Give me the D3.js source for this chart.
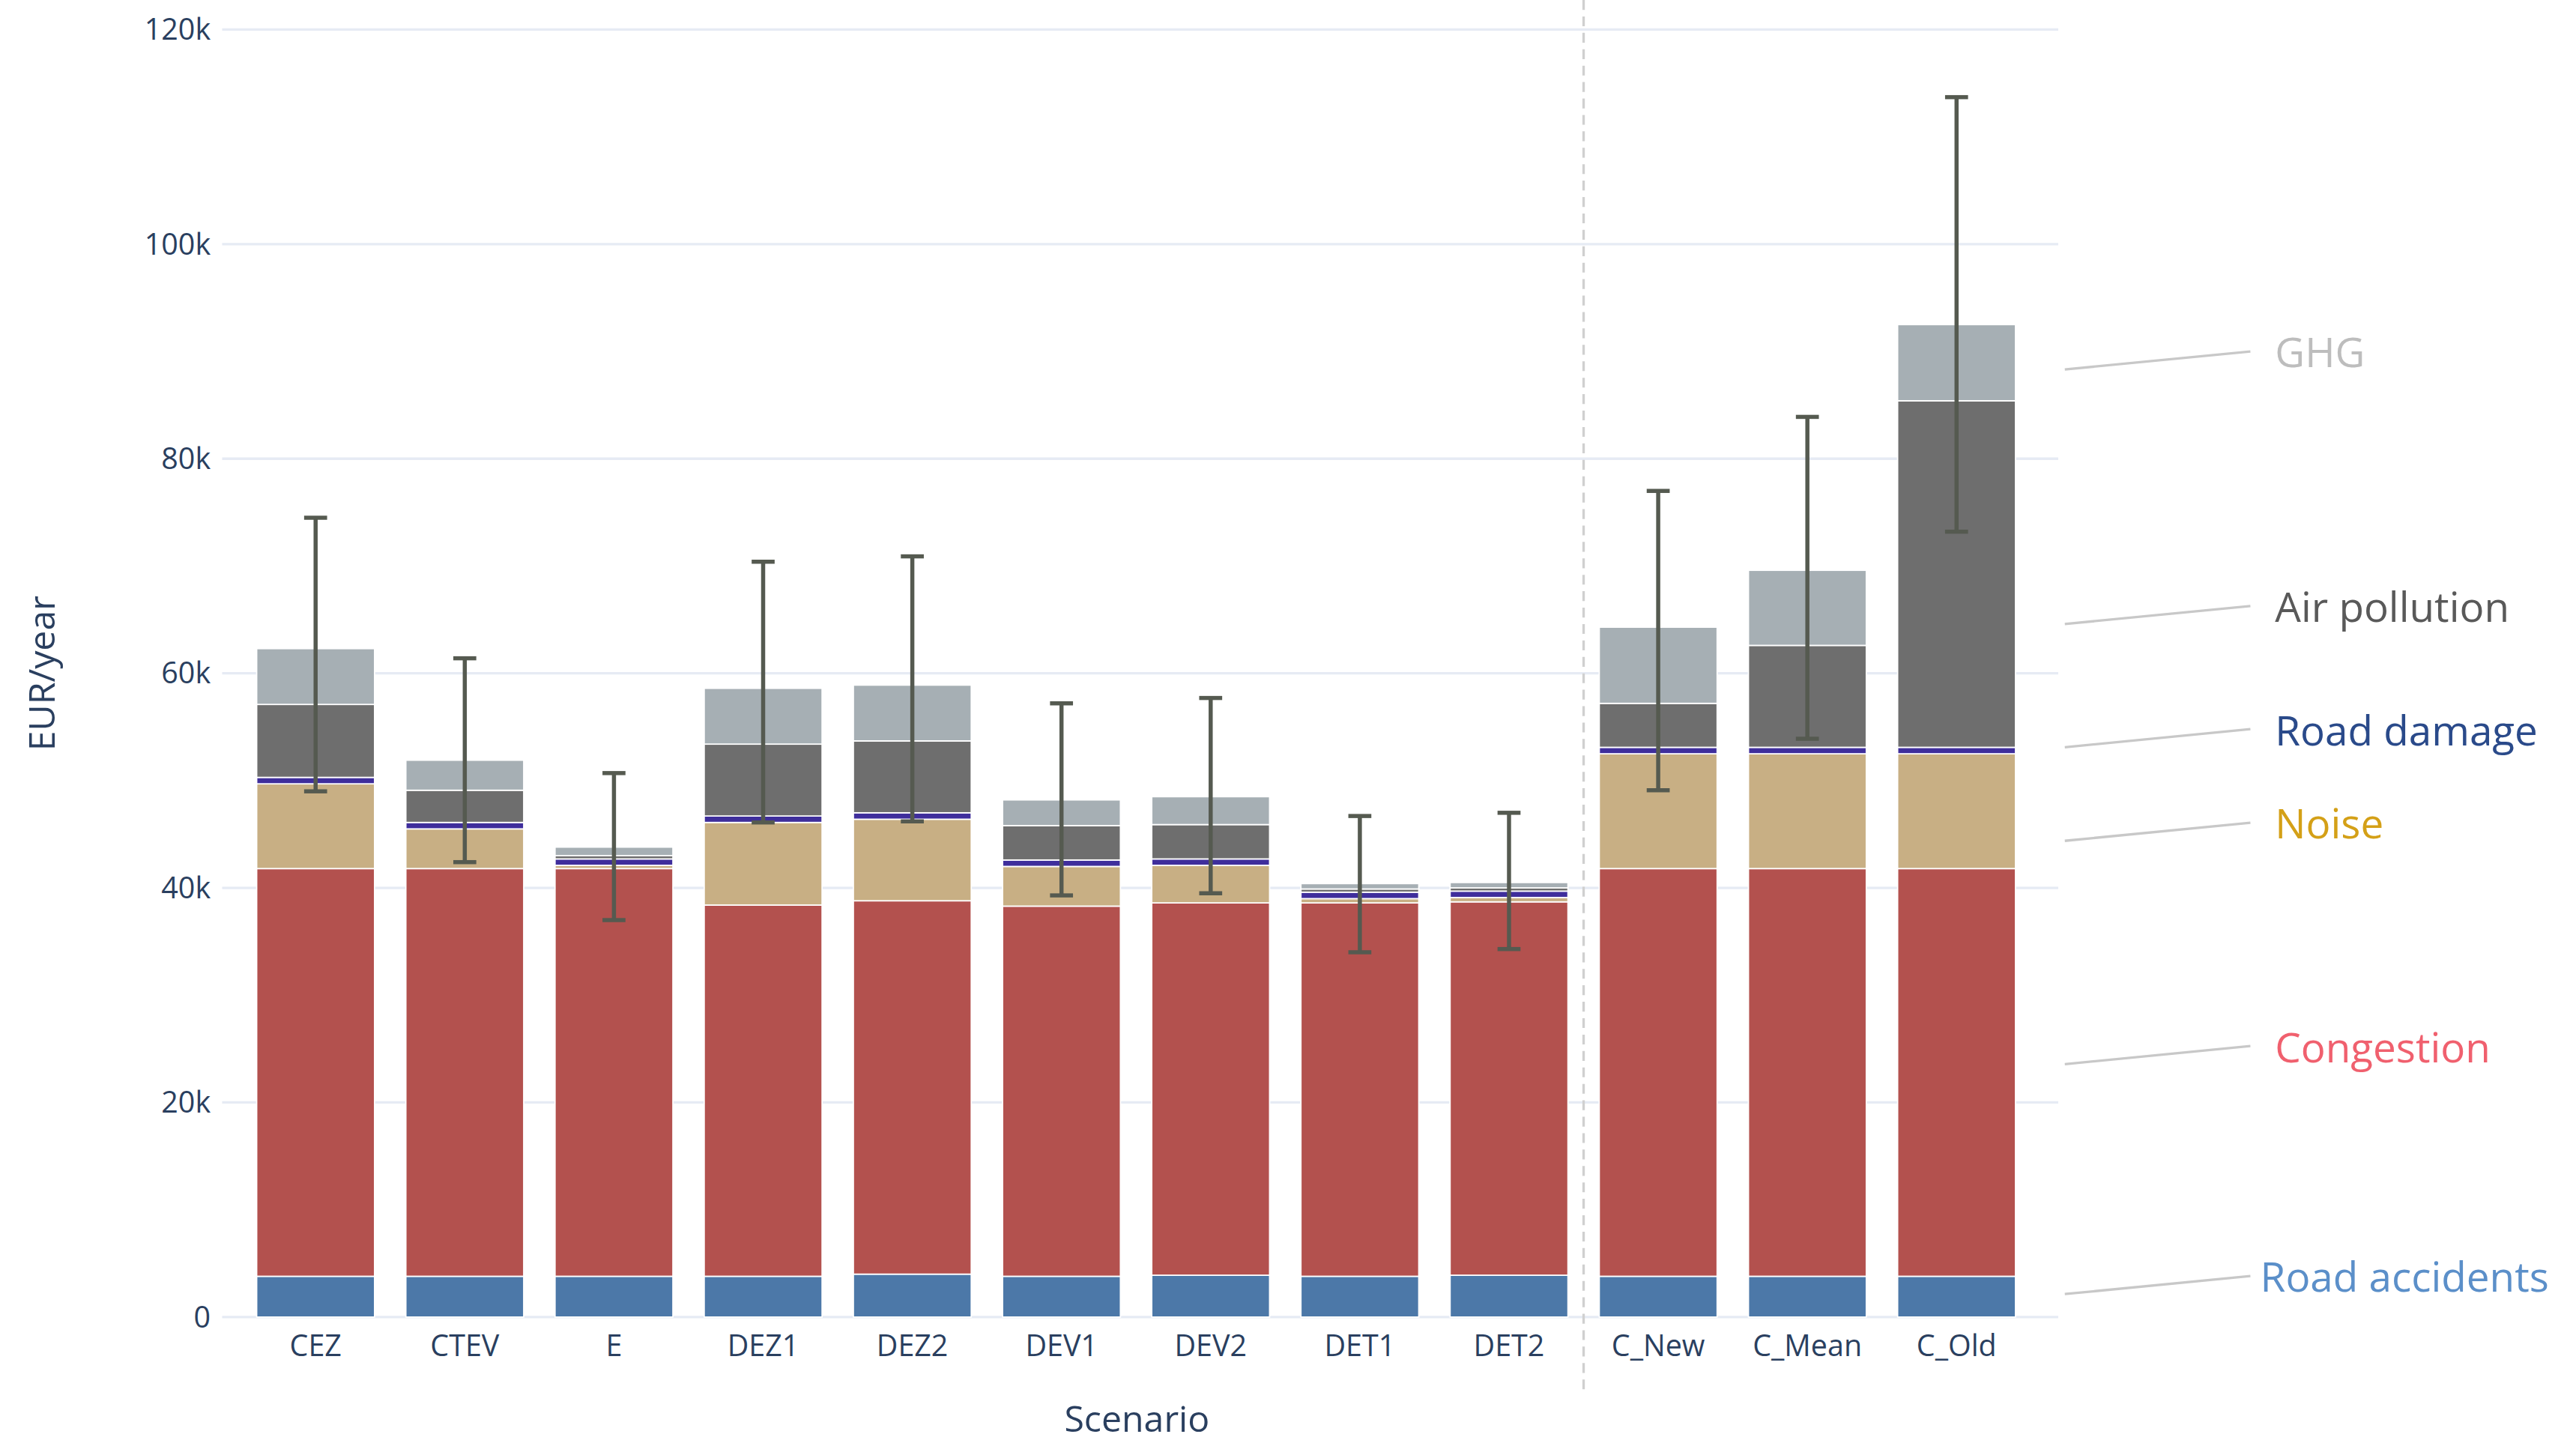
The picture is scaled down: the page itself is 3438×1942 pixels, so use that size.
<!DOCTYPE html>
<html>
<head>
<meta charset="utf-8">
<script src="https://cdn.jsdelivr.net/npm/d3@7"></script>
<style>
  body { margin: 0; background: #fff; }
  text { font-family: "Open Sans", sans-serif; }
</style>
</head>
<body>
<div id="chart"></div>
<script>
  var scenarios = ["CEZ", "CTEV", "E", "DEZ1", "DEZ2", "DEV1", "DEV2", "DET1", "DET2", "C_New", "C_Mean", "C_Old"];
  var roadAccidents = [3.8, 3.8, 3.8, 3.8, 4.0, 3.8, 3.9, 3.8, 3.9, 3.8, 3.8, 3.8];
  var congestion    = [38.0, 38.0, 38.0, 34.6, 34.8, 34.5, 34.7, 34.8, 34.8, 38.0, 38.0, 38.0];
  var noise         = [7.9, 3.7, 0.3, 7.7, 7.6, 3.7, 3.5, 0.4, 0.4, 10.7, 10.7, 10.7];
  var roadDamage    = [0.6, 0.6, 0.6, 0.6, 0.6, 0.6, 0.6, 0.6, 0.6, 0.6, 0.6, 0.6];
  var airPollution  = [6.8, 3.0, 0.3, 6.7, 6.7, 3.2, 3.2, 0.3, 0.3, 4.1, 9.5, 32.3];
  var ghg           = [5.2, 2.8, 0.8, 5.2, 5.2, 2.4, 2.6, 0.5, 0.5, 7.1, 7.0, 7.1];
  var errLow  = [49.0, 42.4, 37.0, 46.1, 46.2, 39.3, 39.5, 34.0, 34.3, 49.1, 53.9, 73.2];
  var errHigh = [74.5, 61.4, 50.7, 70.4, 70.9, 57.2, 57.7, 46.7, 47.0, 77.0, 83.9, 113.7];
  var yTicks = [0, 20, 40, 60, 80, 100, 120];

  var seriesNames  = ["Road accidents", "Congestion", "Noise", "Road damage", "Air pollution", "GHG"];
  var seriesValues = [roadAccidents, congestion, noise, roadDamage, airPollution, ghg];
  var barColors    = ["#4C78A8", "#B3514E", "#C8AF84", "#3F2E9C", "#6E6E6E", "#A6AFB4"];
  var labelColors  = ["#5B8FC9", "#F0606E", "#D4A017", "#2A4A8A", "#595959", "#BDBDBD"];
  var labelY       = [778, 638, 502, 445, 370, 215];

  // draw in the reference's displayed coordinates, scaled up by viewBox
  var W = 1568, H = 886;
  var svg = d3.select("#chart").append("svg")
    .attr("width", 3438).attr("height", 1942)
    .attr("viewBox", "0 0 " + W + " " + H);

  var x = d3.scaleBand().domain(scenarios).range([146.5, 1236.5]).paddingInner(0.21).paddingOuter(0.105);
  var y = d3.scaleLinear().domain([0, 120]).range([802, 18]);

  var rows = scenarios.map(function (s, i) {
    var r = { scenario: s };
    seriesNames.forEach(function (n, j) { r[n] = seriesValues[j][i]; });
    return r;
  });
  var stacked = d3.stack().keys(seriesNames)(rows);

  // grid
  svg.append("g").selectAll("line").data(yTicks).enter().append("line")
    .attr("x1", 135).attr("x2", 1253)
    .attr("y1", function (d) { return y(d); }).attr("y2", function (d) { return y(d); })
    .attr("stroke", "#E6EBF4").attr("stroke-width", 1.5);

  svg.append("g").selectAll("text").data(yTicks).enter().append("text")
    .attr("x", 128).attr("y", function (d) { return y(d); })
    .attr("dy", "0.35em").attr("text-anchor", "end")
    .attr("font-size", 18).attr("fill", "#2A3F5F")
    .text(function (d) { return d === 0 ? "0" : d + "k"; });

  // separator
  svg.append("line").attr("x1", 964).attr("x2", 964).attr("y1", 0).attr("y2", 848)
    .attr("stroke", "#D0D0D0").attr("stroke-width", 1.5).attr("stroke-dasharray", "6,4");

  // bars
  svg.append("g").selectAll("g").data(stacked).enter().append("g")
    .attr("fill", function (d, i) { return barColors[i]; })
    .selectAll("rect").data(function (d) { return d; }).enter().append("rect")
    .attr("x", function (d) { return x(d.data.scenario); })
    .attr("width", x.bandwidth())
    .attr("y", function (d) { return y(d[1]); })
    .attr("height", function (d) { return y(d[0]) - y(d[1]); })
    .attr("stroke", "#fff").attr("stroke-width", 0.8);

  // error bars
  var eb = svg.append("g").attr("stroke", "#555A50").attr("stroke-width", 2.5);
  scenarios.forEach(function (s, i) {
    var cx = x(s) + x.bandwidth() / 2;
    eb.append("line").attr("x1", cx).attr("x2", cx).attr("y1", y(errLow[i])).attr("y2", y(errHigh[i]));
    [errLow[i], errHigh[i]].forEach(function (v) {
      eb.append("line").attr("x1", cx - 7).attr("x2", cx + 7).attr("y1", y(v)).attr("y2", y(v));
    });
  });

  // x labels
  svg.append("g").selectAll("text").data(scenarios).enter().append("text")
    .attr("x", function (d) { return x(d) + x.bandwidth() / 2; }).attr("y", 826)
    .attr("text-anchor", "middle").attr("font-size", 18).attr("fill", "#2A3F5F")
    .text(function (d) { return d; });

  svg.append("text").attr("x", 692).attr("y", 872).attr("text-anchor", "middle")
    .attr("font-size", 22).attr("fill", "#2A3F5F").text("Scenario");
  svg.append("text").attr("transform", "translate(33,410) rotate(-90)").attr("text-anchor", "middle")
    .attr("font-size", 22).attr("fill", "#2A3F5F").text("EUR/year");

  // series labels
  seriesNames.forEach(function (n, i) {
    svg.append("line").attr("x1", 1257).attr("x2", 1370)
      .attr("y1", labelY[i] + 10).attr("y2", labelY[i] - 1)
      .attr("stroke", "#C8C8C8").attr("stroke-width", 1.5);
    svg.append("text").attr("x", n === "Road accidents" ? 1376 : 1385).attr("y", labelY[i])
      .attr("dy", "0.35em").attr("font-size", 25).attr("fill", labelColors[i]).text(n);
  });
</script>
</body>
</html>
